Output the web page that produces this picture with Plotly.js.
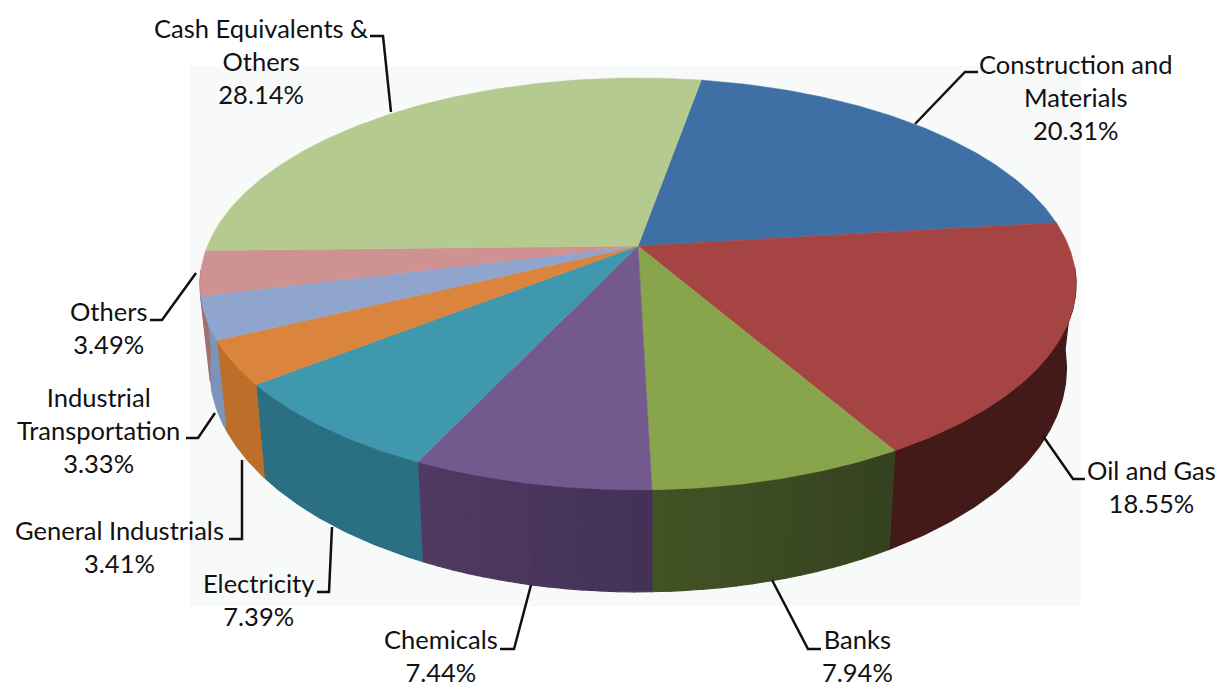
<!DOCTYPE html>
<html>
<head>
<meta charset="utf-8">
<script src="https://cdn.plot.ly/plotly-3.0.1.min.js"></script>
<style>html,body{margin:0;padding:0;background:#fff}#chart{width:1222px;height:684px}</style>
</head>
<body>
<div id="chart"></div>
<script>
// ---- data ----
var categories = ["Construction and Materials","Oil and Gas","Banks","Chemicals","Electricity","General Industrials","Industrial Transportation","Others","Cash Equivalents & Others"];
var shares = [20.31,18.55,7.94,7.44,7.39,3.41,3.33,3.49,28.14];
var topColors = ["#3E70A6","#A64443","#88A54C","#74598F","#3F98AE","#DB843D","#8FA5CE","#CF9292","#B5CA8E"];
// wall shade at the right-hand and left-hand end of each slice
var wallRight = ["#2c4f75","#43191A","#35411f","#423157","#2a6f82","#bd6e2b","#7d93b8","#a07070","#8a9a6c"];
var wallLeft  = ["#2c4f75","#43191A","#435325","#523a62","#2a6f82","#bd6e2b","#7d93b8","#a07070","#8a9a6c"];

// ---- projection of the tilted pie onto the axes ----
var view = {cx:638, cy:246, A:430.6, B:199, k:0.184, startDeg:10.0, wallScale:0.978, wallShift:81, wallTilt:1.086, wallFrom:96, wallTo:263.3};
function topPt(deg){
  var t = deg*Math.PI/180, X = Math.sin(t), Y = Math.cos(t), d = 1+view.k*Y;
  return [view.cx+view.A*X/d, view.cy-view.B*Y/d];
}
function botPt(deg){
  var p = topPt(deg);
  return [view.cx+view.wallScale*(p[0]-view.cx), view.cy+view.wallShift+view.wallTilt*(p[1]-view.cy)];
}
function hex(c){return [parseInt(c.substr(1,2),16),parseInt(c.substr(3,2),16),parseInt(c.substr(5,2),16)];}
function mix(a,b,f){var x=hex(a),y=hex(b);return 'rgb('+[0,1,2].map(function(i){return Math.round(x[i]+(y[i]-x[i])*f);}).join(',')+')';}

var traces = [];
var edges = [], acc = view.startDeg;
shares.forEach(function(s){ edges.push([acc, acc+s*3.6]); acc += s*3.6; });

// side walls
edges.forEach(function(e,i){
  var a = Math.max(e[0],view.wallFrom), b = Math.min(e[1],view.wallTo);
  if (b<=a) return;
  var uniform = wallRight[i]===wallLeft[i];
  var n = uniform ? 1 : Math.ceil((b-a)/2);
  var steps = uniform ? Math.ceil((b-a)*1.5) : 3;
  for (var j=0;j<n;j++){
    var a0=a+(b-a)*j/n, a1=a+(b-a)*(j+1)/n, xs=[], ys=[], p, q;
    for (q=0;q<=steps;q++){p=topPt(a0+(a1-a0)*q/steps);xs.push(p[0]);ys.push(p[1]);}
    for (q=steps;q>=0;q--){p=botPt(a0+(a1-a0)*q/steps);xs.push(p[0]);ys.push(p[1]);}
    xs.push(xs[0]);ys.push(ys[0]);
    var col = mix(wallRight[i],wallLeft[i],(j+0.5)/n);
    traces.push({type:'scatter',mode:'lines',x:xs,y:ys,fill:'toself',fillcolor:col,line:{color:col,width:1.2},hoverinfo:'skip',showlegend:false});
  }
});
// top slices
edges.forEach(function(e,i){
  var xs=[view.cx], ys=[view.cy], n=Math.ceil((e[1]-e[0])*1.5);
  for (var j=0;j<=n;j++){var p=topPt(e[0]+(e[1]-e[0])*j/n);xs.push(p[0]);ys.push(p[1]);}
  xs.push(view.cx);ys.push(view.cy);
  traces.push({type:'scatter',mode:'lines',x:xs,y:ys,fill:'toself',fillcolor:topColors[i],line:{color:topColors[i],width:0.5},name:categories[i],text:categories[i]+': '+shares[i].toFixed(2)+'%',hoverinfo:'text',showlegend:false});
});

// ---- label placement ----
var labelLines = [
  ["Construction and<br>Materials",1075,97],
  ["Oil and Gas",1151,486],
  ["Banks",857,655],
  ["Chemicals",441,655],
  ["Electricity",258,599],
  ["General Industrials",119,546],
  ["Industrial<br>Transportation",98,430],
  ["Others",108,327],
  ["Cash Equivalents &<br>Others",261,60.5]
];
var annotations = labelLines.map(function(l,i){
  return {xref:'x',yref:'y',x:l[1],y:l[2],text:l[0]+'<br>'+shares[i].toFixed(2)+'%',showarrow:false,xanchor:'center',yanchor:'middle',align:'center',font:{family:'Lato, "Open Sans", sans-serif',size:25.5,color:'#111'}};
});
var leaderPaths = [
  'M978,72 L965,72 L915,124',
  'M1085,479 L1073,479 L1043,436',
  'M821,649 L808,649 L772,580',
  'M500,649 L514,649 L531,585',
  'M317,592 L329,592 L332,527',
  'M229,539 L242,539 L242,460',
  'M186,438 L198,438 L215,413',
  'M150,320 L162,320 L196,273',
  'M370,36 L383,36 L391,112'
];
var shapes = [{type:'rect',xref:'x',yref:'y',x0:190,x1:1081,y0:66,y1:606,fillcolor:'#F8FAFA',line:{width:0},layer:'below'}]
  .concat(leaderPaths.map(function(p){return {type:'path',xref:'x',yref:'y',path:p,line:{color:'#111',width:2.5},layer:'above'};}));

Plotly.newPlot('chart',traces,{
  width:1222,height:684,margin:{l:0,r:0,t:0,b:0},
  paper_bgcolor:'#fff',plot_bgcolor:'rgba(0,0,0,0)',
  xaxis:{range:[0,1222],visible:false,fixedrange:true},
  yaxis:{range:[684,0],visible:false,fixedrange:true},
  shapes:shapes,annotations:annotations,showlegend:false
},{displayModeBar:false});
</script>
</body>
</html>
